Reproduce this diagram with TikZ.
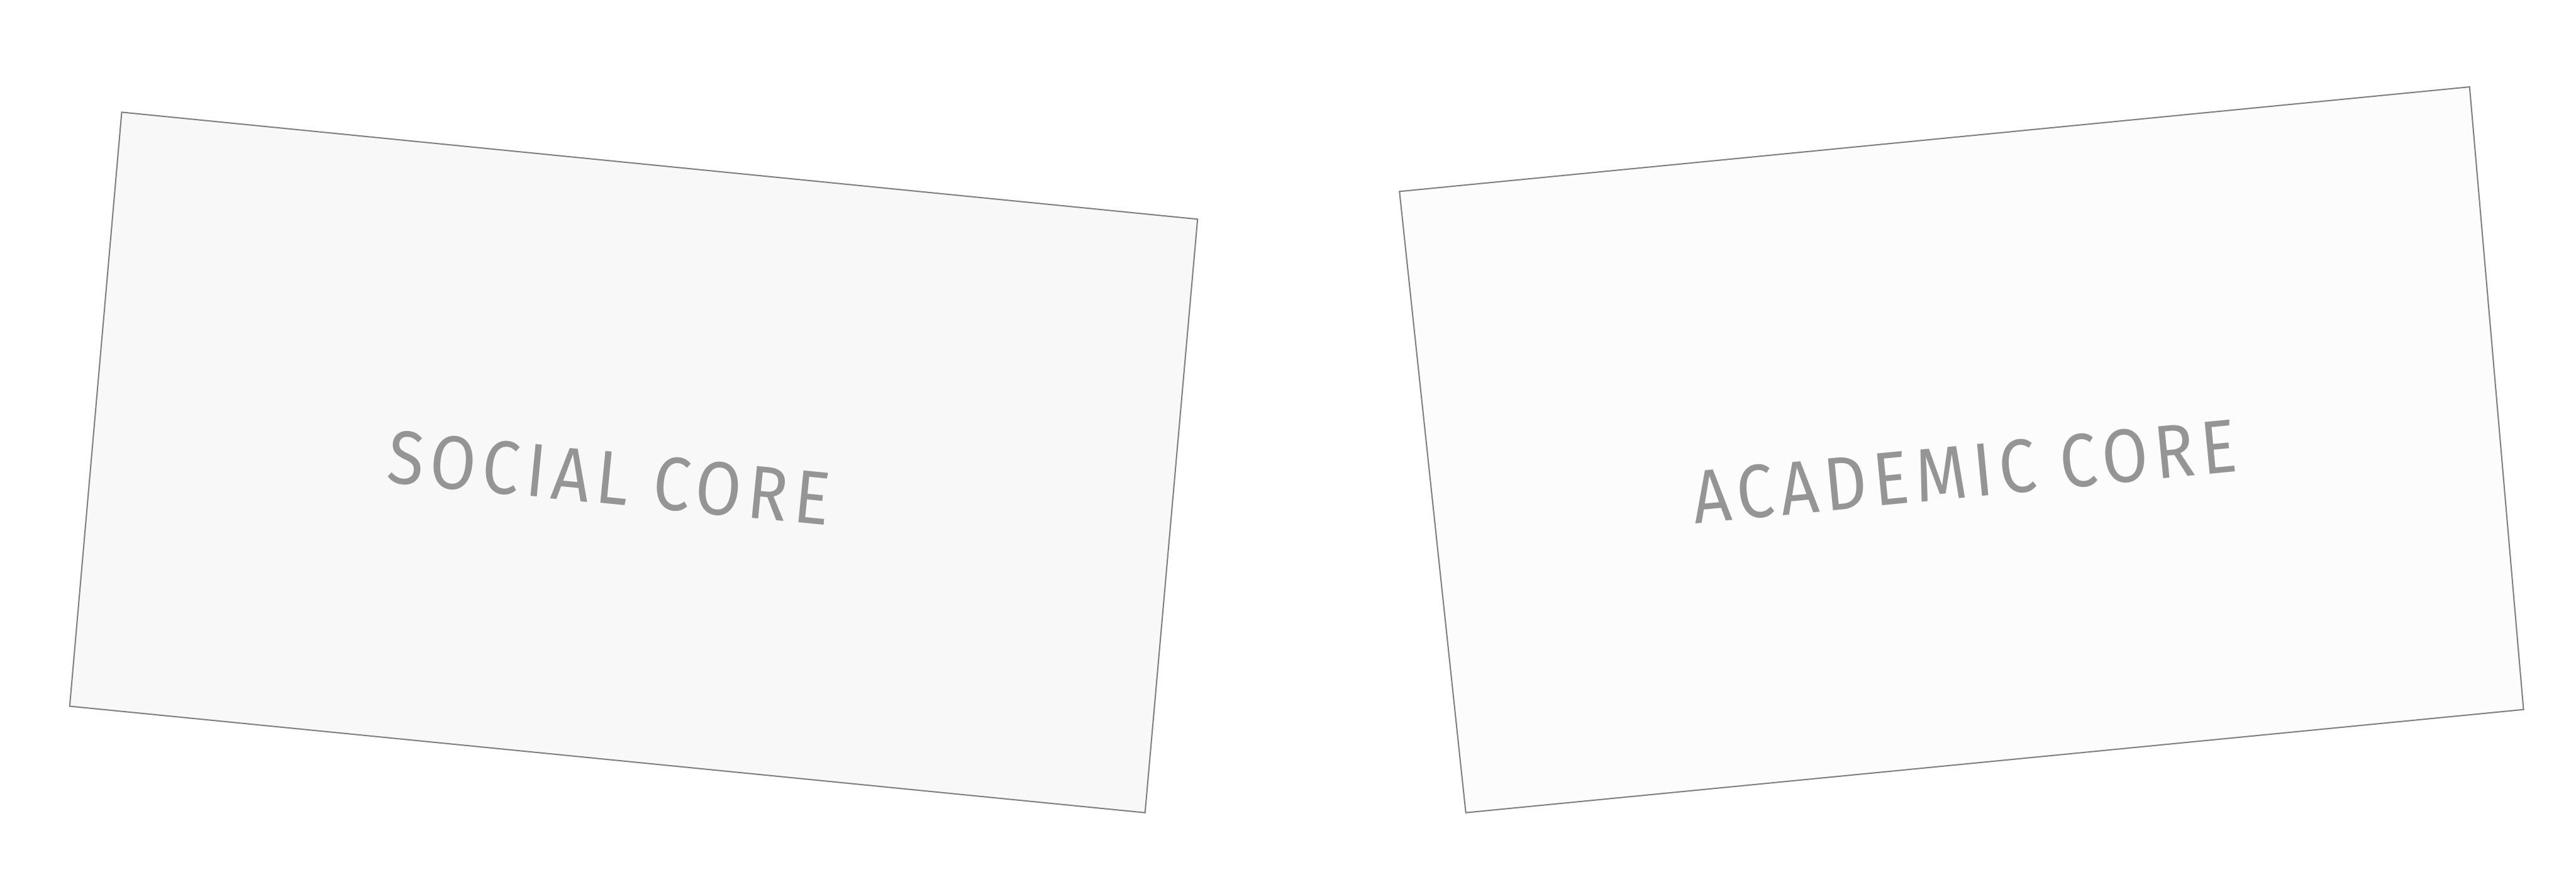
\documentclass[tikz,border=0pt]{standalone}
\usepackage{fontspec}
\setmainfont{Fira Sans}[FakeStretch=0.88,LetterSpace=8.6]
\definecolor{edgegray}{HTML}{808080}
\definecolor{textgray}{HTML}{959595}
\definecolor{leftfill}{HTML}{F8F8F8}
\definecolor{rightfill}{HTML}{FCFCFC}
\tikzset{
  card/.style={draw=edgegray, line width=0.77pt, line join=miter},
  corelabel/.style={text=textgray, inner sep=0pt,
    font=\fontsize{45}{50}\selectfont}
}
\begin{document}
\begin{tikzpicture}[x=1mm, y=-1mm]
    \useasboundingbox (0,0) rectangle (539.7,186.1);
    % Define card corners
    \coordinate (s1) at (25.5,23.5); \coordinate (s2) at (250.9,45.9);
    \coordinate (s3) at (239.9,170.2); \coordinate (s4) at (14.6,147.9);
    \coordinate (a1) at (293.2,40.1); \coordinate (a2) at (517.4,18.2);
    \coordinate (a3) at (528.7,148.6); \coordinate (a4) at (307.1,170.2);
    % Draw cards
    \draw[card, fill=leftfill] (s1) -- (s2) -- (s3) -- (s4) -- cycle;
    \draw[card, fill=rightfill] (a1) -- (a2) -- (a3) -- (a4) -- cycle;
    % Card labels
    \node[corelabel, rotate=-5.6] (social) at (127.6,100.1) {SOCIAL CORE};
    \node[corelabel, rotate=5.5] (academic) at (411.6,98.8) {ACADEMIC CORE};
\end{tikzpicture}
\end{document}
